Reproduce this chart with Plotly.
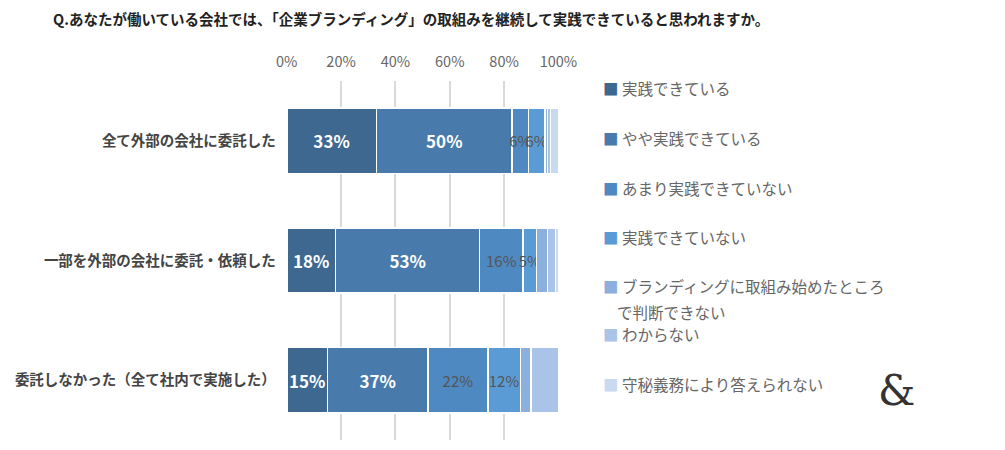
import plotly.graph_objects as go

categories = ["全て外部の会社に委託した", "一部を外部の会社に委託・依頼した", "委託しなかった（全て社内で実施した）"]
series_names = ["実践できている", "やや実践できている", "あまり実践できていない", "実践できていない",
                "ブランディングに取組み始めたところ<br>で判断できない", "わからない", "守秘義務により答えられない"]
values = [
    [33, 18, 15],
    [50, 53, 37],
    [6, 16, 22],
    [6, 5, 12],
    [1, 4, 4],
    [1, 3, 10],
    [3, 1, 0],
]
labels = [
    ["33%", "18%", "15%"],
    ["50%", "53%", "37%"],
    ["6%", "16%", "22%"],
    ["6%", "5%", "12%"],
    ["", "", ""], ["", "", ""], ["", "", ""],
]
colors = ["#3e6890", "#487bab", "#4f89c1", "#5a9bd6", "#8cb0dd", "#a9c4e7", "#c9d9f0"]
tick_vals = [0, 20, 40, 60, 80, 100]
tick_text = ["0%", "20%", "40%", "60%", "80%", "100%"]

font = "Noto Sans CJK JP"
W, H = 1005, 450
fig = go.Figure()
for i, name in enumerate(series_names):
    white = i < 2
    fig.add_trace(go.Bar(
        y=categories, x=values[i], orientation="h", name=name,
        marker=dict(color=colors[i], line=dict(color="white", width=1.5)),
        text=labels[i], textposition="inside", insidetextanchor="middle", textangle=0,
        textfont=dict(color="white" if white else "#555555", size=17 if white else 15,
                      family=font, weight="bold" if white else "normal"),
        constraintext="none", cliponaxis=False, showlegend=False, hoverinfo="skip",
    ))

ann = []
ys = [80, 130, 180, 229, 278, 326, 376]
for i, name in enumerate(series_names):
    ann.append(dict(xref="paper", yref="paper", x=600 / W, y=1 - ys[i] / H,
                    xanchor="left", yanchor="middle", showarrow=False,
                    text=f"<span style='color:{colors[i]}'>■</span> {name.split('<br>')[0]}",
                    font=dict(family=font, size=15.5, color="#666666")))
ann.append(dict(xref="paper", yref="paper", x=614 / W, y=1 - 304 / H, xanchor="left", yanchor="middle",
                showarrow=False, text="で判断できない", font=dict(family=font, size=15.5, color="#666666")))
ann.append(dict(xref="paper", yref="paper", x=33 / W, y=1 - 10 / H, xanchor="left", yanchor="middle",
                showarrow=False, text="Q.あなたが働いている会社では、「企業ブランディング」の取組みを継続して実践できていると思われますか。",
                font=dict(family=font, size=14.5, color="#222222", weight="bold")))
ann.append(dict(xref="paper", yref="paper", x=905 / W, y=1 - 382 / H, xanchor="center", yanchor="middle",
                showarrow=False, text="&", font=dict(family="DejaVu Serif", size=42, color="#333333")))

fig.update_layout(
    barmode="stack", bargap=0.455, width=W, height=H,
    margin=dict(l=0, r=0, t=0, b=0),
    paper_bgcolor="white", plot_bgcolor="white",
    xaxis=dict(side="top", range=[0, 100], tickvals=tick_vals, ticktext=tick_text,
               domain=[276 / W, 556 / W], ticklabelstandoff=10,
               showgrid=True, gridcolor="#d9d9d9", gridwidth=1.5, zeroline=False,
               tickfont=dict(family=font, size=14.5, color="#666666")),
    yaxis=dict(autorange="reversed", ticksuffix="   ", showline=False,
               domain=[18 / H, 377 / H],
               tickfont=dict(family=font, size=14.5, color="#444444", weight="bold")),
    annotations=ann, uniformtext=dict(mode=False),
)
fig.write_html("out.html")
